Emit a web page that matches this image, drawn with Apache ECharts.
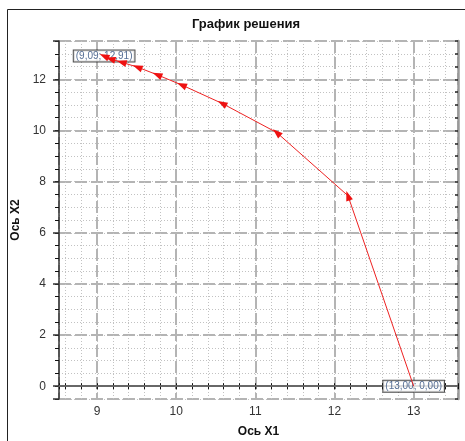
<!DOCTYPE html>
<html>
<head>
<meta charset="utf-8">
<script src="https://cdn.jsdelivr.net/npm/echarts@6/dist/echarts.min.js"></script>
<style>
  html, body { margin: 0; padding: 0; background: #fff; }
  #main { width: 465px; height: 441px; }
</style>
</head>
<body>
<div id="main"></div>
<script>
// точки решения (от начальной к конечной)
const x1Values = [13.00, 12.17, 11.27, 10.58, 10.07, 9.76, 9.51, 9.31, 9.17, 9.09];
const x2Values = [0.00, 7.45, 9.92, 11.06, 11.78, 12.18, 12.48, 12.67, 12.80, 12.91];
const xLimits = [8.52, 13.56];
const yLimits = [-0.5, 13.5];

const font = 'Liberation Sans, Arial, sans-serif';
const chart = echarts.init(document.getElementById('main'));

function isInt(v) {
  return Math.abs(v - Math.round(v)) < 1e-6;
}

function fmt(v) {
  return v.toFixed(2).replace('.', ',');
}

// угол стрелки по направлению движения (в пикселях)
let pxScale = [79, 25.6];
function arrowAngle(i) {
  if (i === 0) return 0;
  const dx = (x1Values[i] - x1Values[i - 1]) * pxScale[0];
  const dy = -(x2Values[i] - x2Values[i - 1]) * pxScale[1];
  return Math.atan2(-dx, -dy) * 180 / Math.PI;
}

function buildData() {
  let data = [];
  for (let i = 0; i < x1Values.length; ++i) {
    data.push({
      value: [x1Values[i], x2Values[i]],
      symbol: i === 0 ? 'none' : 'triangle',
      symbolRotate: arrowAngle(i)
    });
  }
  return data;
}

// подписи начальной и конечной точек
const last = x1Values.length - 1;
const labelData = [
  { value: [x1Values[0], x2Values[0]] },
  { value: [x1Values[last], x2Values[last]] }
];

const minorX = {
  type: 'value', min: xLimits[0], max: xLimits[1], minInterval: 0.2, maxInterval: 0.2
};
const majorX = {
  type: 'value', min: xLimits[0], max: xLimits[1], minInterval: 1, maxInterval: 1
};
const minorY = {
  type: 'value', min: yLimits[0], max: yLimits[1], interval: 0.5
};
const majorY = {
  type: 'value', min: yLimits[0], max: yLimits[1], minInterval: 2, maxInterval: 2
};

const dotted = { color: '#c2c2c2', width: 1, type: [1, 2] };
const dashed = { color: '#b4b4b4', width: 2, type: [12, 4] };

const option = {
  animation: false,
  backgroundColor: '#fff',
  title: {
    text: 'График решения',
    left: 241, top: 13, textAlign: 'center',
    textStyle: { fontFamily: font, fontSize: 13, fontWeight: 'bold', color: '#111' }
  },
  graphic: [{
    type: 'rect',
    shape: { x: 7.5, y: 9.5, width: 470, height: 440 },
    style: { fill: 'none', stroke: '#222', lineWidth: 1 },
    silent: true
  }],
  grid: { left: 59, top: 41, right: 7, bottom: 42, outerBoundsMode: 'none' },
  xAxis: [
    Object.assign({}, minorX, {
      position: 'bottom',
      axisLine: { show: true, lineStyle: { color: '#333', width: 1.5 } },
      axisTick: { show: true, inside: true, length: 3, lineStyle: { color: '#111' } },
      axisLabel: { show: false },
      splitLine: { show: true, lineStyle: dotted }
    }),
    Object.assign({}, majorX, {
      position: 'bottom',
      name: 'Ось X1', nameLocation: 'middle', nameGap: 27,
      nameTextStyle: { fontFamily: font, fontSize: 12, fontWeight: 'bold', color: '#111' },
      axisLine: { show: false },
      axisTick: { show: true, length: 3, lineStyle: { color: '#666', width: 1.5 } },
      axisLabel: {
        fontFamily: font, fontSize: 12, color: '#333', margin: 7,
        formatter: v => isInt(v) ? String(Math.round(v)) : ''
      },
      splitLine: { show: true, lineStyle: dashed }
    }),
    Object.assign({}, minorX, {
      position: 'top',
      axisLine: { show: true, lineStyle: { color: '#333', width: 1.5 } },
      axisTick: { show: true, inside: true, length: 3, lineStyle: { color: '#111' } },
      axisLabel: { show: false },
      splitLine: { show: false }
    })
  ],
  yAxis: [
    Object.assign({}, minorY, {
      position: 'left',
      axisLine: { show: true, lineStyle: { color: '#333', width: 1.5 } },
      axisTick: { show: true, length: 4, lineStyle: { color: '#111' } },
      axisLabel: { show: false },
      splitLine: { show: true, lineStyle: dotted }
    }),
    Object.assign({}, majorY, {
      position: 'left',
      name: 'Ось X2', nameLocation: 'middle', nameGap: 27,
      nameTextStyle: { fontFamily: font, fontSize: 12, fontWeight: 'bold', color: '#111' },
      axisLine: { show: false },
      axisTick: { show: true, length: 6, lineStyle: { color: '#333', width: 1.5 } },
      axisLabel: {
        fontFamily: font, fontSize: 12, color: '#333', margin: 13,
        formatter: v => isInt(v) ? String(Math.round(v)) : ''
      },
      splitLine: { show: true, lineStyle: dashed }
    }),
    Object.assign({}, minorY, {
      position: 'right',
      axisLine: { show: true, lineStyle: { color: '#999', width: 2.5 } },
      axisTick: { show: true, inside: true, length: 3, lineStyle: { color: '#222', width: 1.5 } },
      axisLabel: { show: false },
      splitLine: { show: false }
    })
  ],
  series: [{
    type: 'scatter',
    xAxisIndex: 0,
    yAxisIndex: 0,
    data: labelData,
    symbol: 'circle',
    symbolSize: 2,
    itemStyle: { color: 'rgba(0,0,0,0)' },
    label: {
      show: true,
      position: 'inside',
      formatter: p => '(' + fmt(p.value[0]) + '; ' + fmt(p.value[1]) + ')',
      fontFamily: font, fontSize: 10, color: '#2a4a7a',
      backgroundColor: '#fff', borderColor: '#222', borderWidth: 1,
      padding: [1, 2, 0, 2]
    },
    z: 2
  }, {
    type: 'line',
    xAxisIndex: 0,
    yAxisIndex: 0,
    data: buildData(),
    symbolSize: [7, 10],
    showSymbol: true,
    lineStyle: { color: '#ee2222', width: 1 },
    itemStyle: { color: '#ee1111' },
    markLine: {
      silent: true,
      symbol: 'none',
      label: { show: false },
      lineStyle: { color: '#777', width: 1.5, type: 'solid' },
      data: [{ yAxis: 0 }],
      z: 1
    },
    z: 5
  }]
};

chart.setOption(option);

// пересчёт углов стрелок по реальному масштабу осей
const p0 = chart.convertToPixel({ xAxisIndex: 0, yAxisIndex: 0 }, [9, 0]);
const p1 = chart.convertToPixel({ xAxisIndex: 0, yAxisIndex: 0 }, [10, 1]);
pxScale = [Math.abs(p1[0] - p0[0]), Math.abs(p1[1] - p0[1])];
chart.setOption({ series: [{}, { data: buildData() }] });
</script>
</body>
</html>
